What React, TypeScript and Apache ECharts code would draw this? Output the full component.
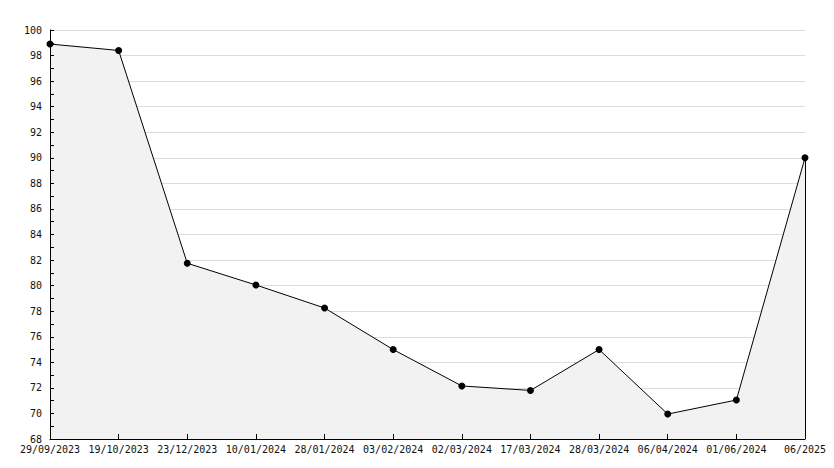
import React, { useEffect, useRef } from "react";
import * as echarts from "echarts";

const categories = [
  "29/09/2023", "19/10/2023", "23/12/2023", "10/01/2024", "28/01/2024", "03/02/2024",
  "02/03/2024", "17/03/2024", "28/03/2024", "06/04/2024", "01/06/2024", "06/2025",
];
const values = [98.9, 98.4, 81.75, 80.05, 78.25, 75.0, 72.15, 71.8, 75.0, 69.95, 71.05, 90.0];
const yMin = 68;
const yMax = 100;
const yInterval = 2;

const FONT = "DejaVu Sans Mono";

export default function App() {
  const ref = useRef<HTMLDivElement>(null);
  useEffect(() => {
    if (!ref.current) return;
    const chart = echarts.init(ref.current, undefined, { renderer: "svg" });
    const lastCat = categories[categories.length - 1];
    const lastVal = values[values.length - 1];
    chart.setOption({
      animation: false,
      backgroundColor: "#ffffff",
      grid: { left: 50, right: 29, top: 30, bottom: 29, containLabel: false },
      xAxis: {
        type: "category",
        data: categories,
        boundaryGap: false,
        z: 10,
        axisLine: { lineStyle: { color: "#000", width: 1 } },
        axisTick: { inside: true, length: 5, lineStyle: { color: "#000" }, interval: 0 },
        axisLabel: {
          interval: 0,
          margin: 5,
          fontFamily: FONT,
          fontSize: 10,
          color: "#111",
        },
        splitLine: { show: false },
      },
      yAxis: [
        {
          type: "value",
          min: yMin,
          max: yMax,
          interval: yInterval,
          z: 0,
          axisLine: { show: false },
          axisTick: { show: false },
          axisLabel: { show: false },
          splitLine: { show: true, lineStyle: { color: "#dcdcdc", width: 1 } },
        },
        {
          type: "value",
          position: "left",
          offset: 0,
          min: yMin,
          max: yMax,
          interval: yInterval,
          z: 10,
          axisLine: { show: true, onZero: false, lineStyle: { color: "#000", width: 1 } },
          axisTick: { show: true, inside: true, length: 4, lineStyle: { color: "#000" } },
          minorTick: { show: true, splitNumber: 2, length: 4, lineStyle: { color: "#000" } },
          axisLabel: {
            margin: 8,
            fontFamily: FONT,
            fontSize: 10,
            color: "#111",
          },
          splitLine: { show: false },
        },
      ],
      series: [
        {
          type: "line",
          yAxisIndex: 0,
          data: values,
          symbol: "circle",
          symbolSize: 7,
          itemStyle: { color: "#000" },
          lineStyle: { color: "#000", width: 1 },
          areaStyle: { color: "#f2f2f2", opacity: 1 },
          markLine: {
            silent: true,
            symbol: "none",
            label: { show: false },
            lineStyle: { color: "#000", width: 1, type: "solid" },
            data: [[{ coord: [lastCat, lastVal] }, { coord: [lastCat, yMin] }]],
          },
        },
      ],
    });
    return () => chart.dispose();
  }, []);
  return <div ref={ref} style={{ width: 834, height: 468, position: "absolute", left: 0, top: 0 }} />;
}
